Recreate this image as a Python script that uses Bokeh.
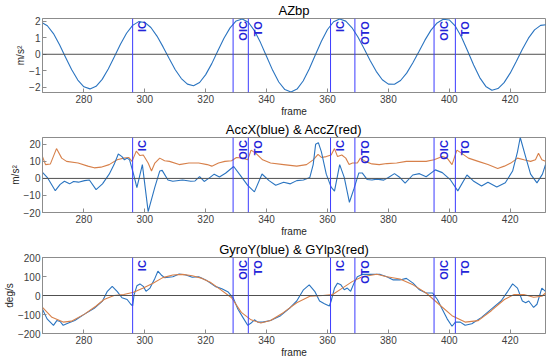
import math
from bokeh.plotting import figure
from bokeh.layouts import column
from bokeh.models import Span, FixedTicker, Range1d
from bokeh.core.properties import value
from bokeh.embed import file_html
from bokeh.resources import INLINE

# ---------------- data ----------------
x_range_lim = (266.4, 431.6)
x_ticks = [280, 300, 320, 340, 360, 380, 400, 420]

event_frames = [296, 329, 334, 361, 369, 395, 402]
event_labels = ["IC", "OIC", "TO", "IC", "OTO", "OIC", "TO"]

# Panel 1: AZbp
azbp_frame = list(range(266, 434, 2))
azbp_val = [1.96, 1.74, 1.26, 0.58, -0.19, -0.94, -1.57, -1.98, -2.11,
            -1.95, -1.53, -0.90, -0.15, 0.61, 1.28, 1.76, 1.99,
            1.94, 1.63, 1.11, 0.45, -0.26, -0.94, -1.48, -1.82, -1.92,
            -1.72, -1.24, -0.57, 0.21, 0.98, 1.61, 2.03, 2.15,
            1.95, 1.44, 0.71, -0.14, -0.98, -1.69, -2.15, -2.30,
            -2.12, -1.63, -0.90, -0.05, 0.79, 1.51, 1.98, 2.15,
            2.02, 1.63, 1.05, 0.35, -0.38, -1.04, -1.55, -1.82,
            -1.83, -1.60, -1.15, -0.53, 0.16, 0.86, 1.47, 1.91, 2.13,
            2.09, 1.71, 1.05, 0.22, -0.65, -1.42, -1.96, -2.19,
            -2.09, -1.73, -1.15, -0.44, 0.31, 0.98, 1.49, 1.76, 1.80]
azbp_frame = azbp_frame[:len(azbp_val)]

# Panel 2: AccX (blue) & AccZ (red)
accx_frame = [266.4, 268.0, 270.6, 272.2, 273.6, 275.3, 276.6, 278.2, 280.2, 281.8,
              284.0, 286.1, 288.3, 289.9, 291.3, 292.5, 293.3, 294.2, 295.0, 296.3,
              297.4, 299.2, 301.1, 303.3, 304.9, 305.7, 307.6, 309.2, 312.4, 315.1,
              316.5, 318.0, 319.5, 321.0, 322.8, 324.5, 326.5, 329.2, 331.5, 333.8,
              336.0, 338.5, 340.8, 343.0, 345.6, 347.8, 349.9, 352.1, 354.2, 355.3,
              356.1, 357.0, 358.0, 359.6, 361.2, 362.3, 364.0, 365.5, 367.2, 368.7,
              370.3, 371.4, 373.0, 374.6, 376.2, 378.5, 380.0, 382.0, 383.8, 385.5,
              388.0, 390.2, 392.4, 395.4, 397.7, 400.4, 402.8, 405.8, 407.9, 410.6,
              412.7, 415.6, 418.4, 420.8, 422.4, 423.3, 425.1, 426.7, 428.8, 430.6, 431.6]
accx_val = [3.5, 0.5, -7.2, -3.5, -1.7, -3.2, -1.8, -2.2, -1.3, -0.9,
            -6.6, -3.2, 2.5, 8.1, 14.3, 12.8, 10.9, 11.9, 10.9, 2.5,
            -5.4, 8.1, -19.5, -5.1, 4.3, 4.7, -0.9, -1.7, -0.9, -1.7,
            -1.5, 1.0, -1.8, 0.0, 2.5, 0.8, 3.0, 7.0, 1.5, -4.1,
            -7.9, 2.6, -1.3, -4.0, -2.2, -3.2, -1.3, -0.9, 0.6, 8.1,
            20.0, 21.0, 15.6, 2.5, -5.1, -7.5, 8.1, 0.6, -14.0, -6.0,
            3.2, 3.2, -0.6, -0.9, -0.4, -1.0, 0.5, 2.8, 0.5, -2.8,
            2.0, 2.8, 1.0, 5.0, 3.4, -0.9, -7.3, 2.0, -1.5, -4.5,
            -2.2, -5.0, -2.5, 4.3, 15.6, 24.0, 12.5, 2.5, -2.6, 2.5, 8.0]

accz_frame = [266.4, 267.4, 269.0, 271.0, 272.7, 274.3, 278.1, 281.3, 283.4, 285.6,
              288.3, 290.9, 293.1, 294.7, 295.8, 297.2, 298.4, 299.5, 301.1, 302.2,
              303.3, 304.9, 306.5, 308.1, 311.3, 314.5, 317.7, 320.5, 322.0, 324.2,
              326.3, 328.5, 330.1, 332.2, 333.8, 334.9, 336.5, 338.7, 341.3, 345.6,
              349.9, 353.1, 355.3, 356.9, 358.0, 359.6, 361.2, 362.3, 363.3, 364.7,
              366.0, 367.1, 368.2, 369.8, 370.8, 372.4, 374.6, 377.0, 379.5, 382.7,
              385.9, 389.1, 392.4, 395.0, 397.7, 399.3, 400.9, 402.5, 404.1, 406.3,
              409.5, 412.7, 415.9, 418.1, 420.2, 422.4, 424.5, 426.7, 428.3, 429.3,
              430.4, 431.6]
accz_val = [12.8, 8.1, 8.5, 17.5, 11.9, 10.0, 9.0, 7.2, 6.2, 6.6,
            8.1, 10.9, 11.9, 12.3, 10.0, 16.0, 13.4, 13.7, 9.0, 4.3,
            9.0, 11.9, 10.4, 10.0, 8.1, 9.0, 9.0, 8.1, 7.2, 9.0,
            10.0, 10.4, 12.3, 11.9, 10.9, 16.6, 14.7, 10.9, 9.0, 8.1,
            7.2, 8.1, 10.9, 14.1, 12.3, 12.8, 13.7, 17.5, 12.8, 13.7,
            11.9, 8.1, 9.0, 9.0, 11.9, 10.0, 8.5, 8.1, 8.7, 9.0,
            10.0, 10.0, 10.0, 10.9, 12.8, 11.9, 8.1, 16.6, 14.7, 11.9,
            10.0, 8.1, 5.8, 7.2, 9.0, 11.9, 10.9, 10.0, 10.9, 14.7,
            10.9, 10.0]

# Panel 3: GyroY (blue) & GYlp3 (red)
gyro_frame = [266.4, 267.9, 270.0, 271.1, 272.2, 273.2, 274.9, 277.0, 280.2, 283.4,
              286.1, 287.7, 289.3, 290.9, 292.5, 294.2, 295.4, 296.0, 296.5, 297.4,
              298.4, 299.5, 300.4, 301.7, 303.3, 304.3, 305.4, 306.5, 309.2, 311.3,
              313.5, 315.6, 317.7, 320.0, 323.1, 325.3, 327.4, 329.0, 330.6, 332.2,
              333.8, 334.9, 336.0, 337.1, 338.7, 341.3, 344.6, 347.8, 349.9, 352.1,
              354.0, 355.8, 357.4, 359.0, 360.6, 361.2, 362.3, 363.3, 364.4, 365.5,
              366.5, 367.6, 368.7, 369.8, 371.4, 373.5, 375.7, 377.3, 379.5, 381.6,
              383.8, 385.9, 388.1, 390.2, 392.4, 394.5, 396.1, 397.7, 399.3, 400.9,
              402.0, 403.6, 405.2, 407.4, 410.6, 413.8, 417.0, 419.2, 420.8, 422.4,
              424.0, 425.1, 426.1, 427.7, 428.8, 430.4, 431.6]
gyro_val = [-72, -123, -157, -132, -137, -157, -145, -132, -98, -67,
            -29, 22, 48, 22, -12, -21, -46, -55, 5, 51,
            61, 48, 22, 39, 90, 128, 108, 94, 99, 113,
            108, 96, 99, 82, 48, 36, 18, -12, -72, -115,
            -157, -145, -128, -140, -140, -132, -106, -63, -29, 30,
            56, 22, -29, -43, -55, -29, 39, 65, 56, 30,
            39, 22, 65, 99, 111, 111, 112, 111, 99, 82,
            82, 90, 65, 30, 13, 13, -21, -72, -123, -162,
            -140, -140, -157, -149, -115, -72, -29, 22, 61, 39,
            -29, -38, -29, -63, -46, 39, 22]

gylp_frame = [266.4, 269.5, 273.2, 275.9, 280.2, 284.0, 286.6, 289.9, 293.1, 296.3,
              299.5, 302.7, 305.9, 309.2, 312.4, 315.6, 318.8, 321.5, 324.2, 328.5,
              331.7, 334.9, 338.1, 341.3, 345.6, 349.9, 354.2, 358.5, 361.7, 364.9,
              368.1, 371.4, 376.2, 379.5, 383.8, 388.1, 392.4, 396.6, 400.9, 405.2,
              409.5, 413.8, 418.1, 421.3, 424.5, 427.7, 430.4, 431.6]
gylp_val = [-63, -115, -140, -135, -98, -55, -21, 0, 5, 17,
            39, 65, 94, 108, 111, 104, 90, 70, 39, -12,
            -89, -128, -145, -132, -89, -38, -4, 0, 5, 39,
            73, 99, 112, 99, 87, 56, 13, -46, -106, -140,
            -132, -80, -21, 5, 5, -9, -4, 13]

# ---------------- style ----------------
FONT = "Liberation Sans"
BLUE = "#2a74c0"
RED = "#d7804a"
EVENT = "#3b3bff"
GRAY = "#8c8c8c"


def panel(title, ylabel, yr, yticks, series, height):
    p = figure(width=550, height=height, output_backend="svg", toolbar_location=None,
               x_range=Range1d(*x_range_lim), y_range=Range1d(*yr),
               min_border_left=32, min_border_right=5, min_border_top=0,
               min_border_bottom=0)
    p.title.text = title
    p.title.align = "center"
    p.title.text_font = FONT
    p.title.text_font_size = "13px"
    p.title.text_font_style = "normal"
    p.title.text_color = "#000000"
    p.title.standoff = 1
    p.grid.visible = False
    p.outline_line_color = GRAY
    p.background_fill_color = "white"
    p.border_fill_color = "white"
    for ax in (p.xaxis[0], p.yaxis[0]):
        ax.axis_line_color = GRAY
        ax.major_tick_line_color = GRAY
        ax.major_tick_in = 4
        ax.major_tick_out = 0
        ax.minor_tick_line_color = None
        ax.major_label_text_font = FONT
        ax.major_label_text_font_size = "10px"
        ax.major_label_text_color = "#404040"
        ax.axis_label_text_font = FONT
        ax.axis_label_text_font_size = "10px"
        ax.axis_label_text_font_style = "normal"
        ax.axis_label_text_color = "#262626"
        ax.major_label_standoff = 2
        ax.axis_label_standoff = 0
    p.xaxis.ticker = FixedTicker(ticks=x_ticks)
    p.yaxis.ticker = FixedTicker(ticks=yticks)
    p.xaxis.axis_label = "frame"
    p.yaxis.axis_label = ylabel

    p.add_layout(Span(location=0, dimension="width", line_color="#505050", line_width=1))
    for ev in event_frames:
        p.add_layout(Span(location=ev, dimension="height", line_color=EVENT, line_width=1))
    for xs, ys, col in series:
        p.line(xs, ys, line_color=col, line_width=1.1)
    ymin, ymax = yr
    p.text(x=[e + 1.2 for e in event_frames],
           y=[ymax - 0.035 * (ymax - ymin)] * len(event_frames),
           text=event_labels, angle=math.pi / 2, text_align="right", text_baseline="top",
           text_color="#2424d8", text_font=value(FONT), text_font_size="11px",
           text_font_style="bold")
    return p


p1 = panel("AZbp", "m/s²", (-2.33, 2.18), [-2, -1, 0, 1, 2],
           [(azbp_frame, azbp_val, BLUE)], 119)
p2 = panel("AccX(blue) & AccZ(red)", "m/s²", (-20, 24), [-20, -10, 0, 10, 20],
           [(accz_frame, accz_val, RED), (accx_frame, accx_val, BLUE)], 120)
p3 = panel("GyroY(blue) & GYlp3(red)", "deg/s", (-200, 200), [-200, -100, 0, 100, 200],
           [(gyro_frame, gyro_val, BLUE), (gylp_frame, gylp_val, RED)], 121)

layout = column(p1, p2, p3, spacing=0)
open("out.html", "w").write(file_html(layout, INLINE))
